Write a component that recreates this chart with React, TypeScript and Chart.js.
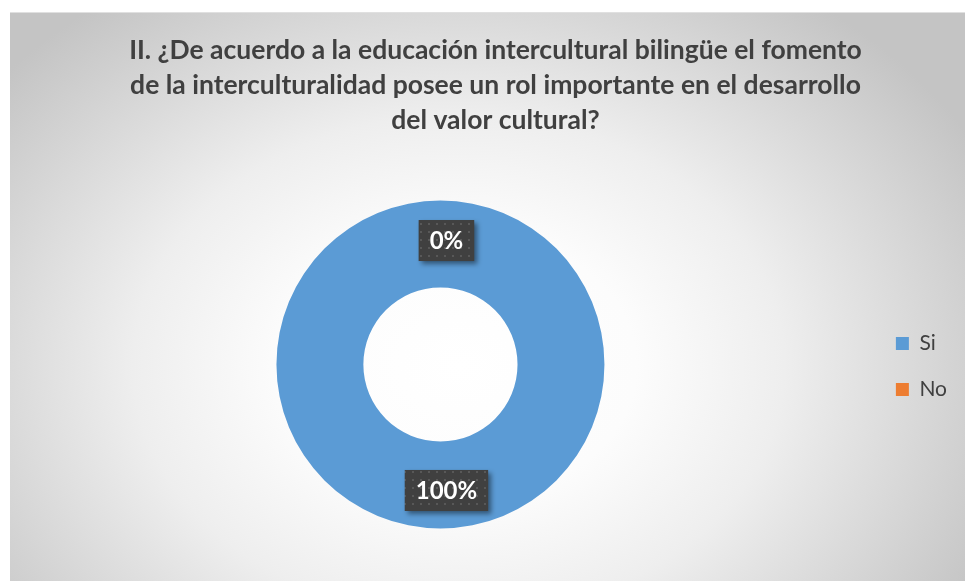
import React, { useEffect, useRef } from "react";
import { Chart, registerables } from "chart.js";

Chart.register(...registerables);

const categories = ["Si", "No"];
const values = [100, 0];
const colors = ["#5B9BD5", "#ED7D31"];
const titleLines = [
  "II. ¿De acuerdo a la educación intercultural bilingüe el fomento",
  "de la interculturalidad posee un rol importante en el desarrollo",
  "del valor cultural?",
];

const FONT = "Lato, 'Open Sans', sans-serif";

function makePattern(ctx: CanvasRenderingContext2D) {
  const c = document.createElement("canvas");
  c.width = 8;
  c.height = 8;
  const p = c.getContext("2d")!;
  p.fillStyle = "#404040";
  p.fillRect(0, 0, 8, 8);
  p.fillStyle = "#585858";
  p.fillRect(2, 2, 2, 2);
  return ctx.createPattern(c, "repeat")!;
}

const titlePlugin = {
  id: "shiftedTitle",
  afterDraw(chart: any) {
    const ctx: CanvasRenderingContext2D = chart.ctx;
    ctx.save();
    ctx.font = `bold 26.5px ${FONT}`;
    ctx.fillStyle = "#404040";
    ctx.textAlign = "center";
    ctx.textBaseline = "middle";
    const cx = chart.width / 2 + 8;
    titleLines.forEach((line, i) => {
      ctx.fillText(line, cx, 37 + i * 35);
    });
    ctx.restore();
  },
};

const labelPlugin = {
  id: "boxLabels",
  afterDatasetsDraw(chart: any) {
    const ctx: CanvasRenderingContext2D = chart.ctx;
    const meta = chart.getDatasetMeta(0);
    const data = chart.data.datasets[0].data as number[];
    const total = data.reduce((a, b) => a + b, 0);
    const pattern = makePattern(ctx);
    meta.data.forEach((arc: any, i: number) => {
      const tp = arc.tooltipPosition();
      const px = arc.x + (tp.x - arc.x) * 1.07;
      const py = arc.y + (tp.y - arc.y) * 1.07;
      const text = Math.round((data[i] / total) * 100) + "%";
      ctx.save();
      ctx.font = `bold 24px ${FONT}`;
      const tw = ctx.measureText(text).width;
      const w = tw + 22;
      const h = 41;
      const x = px + 6 - w / 2;
      const y = py - h / 2 + (i === 0 ? -3 : 5);
      ctx.shadowColor = "rgba(0,0,0,0.45)";
      ctx.shadowBlur = 5;
      ctx.shadowOffsetX = 3;
      ctx.shadowOffsetY = 3;
      ctx.fillStyle = pattern;
      ctx.fillRect(x, y, w, h);
      ctx.shadowColor = "transparent";
      ctx.fillStyle = "#ffffff";
      ctx.textAlign = "center";
      ctx.textBaseline = "middle";
      ctx.fillText(text, x + w / 2, y + h / 2 + 1);
      ctx.restore();
    });
  },
};

export default function App() {
  const ref = useRef<HTMLCanvasElement>(null);
  useEffect(() => {
    const chart = new Chart(ref.current!, {
      type: "doughnut",
      data: {
        labels: categories,
        datasets: [
          {
            data: values,
            backgroundColor: colors,
            borderWidth: 0,
            radius: 164,
            cutout: "47%",
          } as any,
        ],
      },
      options: {
        animation: false,
        responsive: false,
        layout: { padding: { top: 135, left: 0, right: 8, bottom: 0 } },
        plugins: {
          tooltip: { enabled: false },
          title: { display: false },
          legend: {
            position: "right",
            title: {
              display: true,
              text: " ",
              font: { size: 1, lineHeight: 1 },
              padding: { top: 3, bottom: 0 },
            },
            labels: {
              color: "#404040",
              font: { family: FONT, size: 21 },
              boxWidth: 13,
              boxHeight: 13,
              padding: 25,
            },
          },
        },
      },
      plugins: [labelPlugin, titlePlugin],
    });
    return () => chart.destroy();
  }, []);
  return (
    <div
      style={{
        position: "absolute",
        left: 10,
        top: 12,
        width: 955,
        height: 569,
        borderTop: "1px solid #e0e0e0",
        background:
          "radial-gradient(ellipse 62% 80% at 47% 62%, #ffffff 0%, #fcfcfc 30%, #eeeeee 55%, #c4c4c4 100%)",
      }}
    >
      <canvas ref={ref} width={955} height={568} />
    </div>
  );
}
